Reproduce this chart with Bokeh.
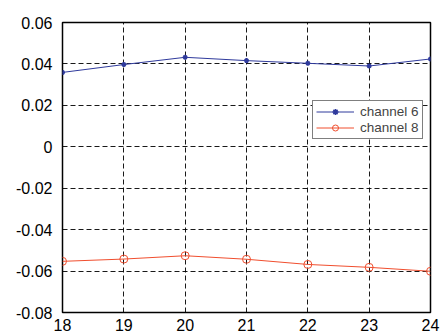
from bokeh.plotting import figure
from bokeh.models import FixedTicker, CustomJSTickFormatter, Legend, LegendItem, Range1d
from bokeh.embed import file_html
from bokeh.resources import INLINE

# Channel readings per index
x_vals = [18, 19, 20, 21, 22, 23, 24]
channel_6 = [0.0359, 0.0397, 0.0432, 0.0416, 0.0403, 0.0390, 0.0424]
channel_8 = [-0.0553, -0.0542, -0.0526, -0.0543, -0.0568, -0.0582, -0.0601]

x_ticks = [18, 19, 20, 21, 22, 23, 24]
y_ticks = [-0.08, -0.06, -0.04, -0.02, 0.0, 0.02, 0.04, 0.06]

BLUE = "#2f3a9c"
RED = "#f04e2e"
FONT = "Liberation Sans"

p = figure(width=442, height=336, output_backend="svg", toolbar_location=None,
           x_range=Range1d(18, 24), y_range=Range1d(-0.08, 0.06),
           min_border_left=62, min_border_right=12, min_border_top=22, min_border_bottom=24)
p.background_fill_color = "white"
p.border_fill_color = "white"
p.outline_line_color = "black"
p.outline_line_width = 1.5

for ax in (p.xaxis, p.yaxis):
    ax.axis_line_color = None
    ax.major_tick_in = 0
    ax.major_tick_out = 0
    ax.minor_tick_line_color = None
    ax.major_label_text_font = FONT
    ax.major_label_text_font_size = "16px"
    ax.major_label_text_color = "black"

p.xaxis.ticker = FixedTicker(ticks=x_ticks)
p.yaxis.ticker = FixedTicker(ticks=y_ticks)
p.xaxis.major_label_standoff = 6
p.yaxis.major_label_standoff = 10
p.yaxis.formatter = CustomJSTickFormatter(code="""
    if (Math.abs(tick) < 1e-9) { return "0"; }
    return tick.toFixed(2).replace(/0+$/, "").replace(/\\.$/, "");
""")

for g in (p.xgrid, p.ygrid):
    g.grid_line_color = "black"
    g.grid_line_dash = "5 3"
    g.grid_line_width = 1
    g.grid_line_alpha = 0.9

l6 = p.line(x_vals, channel_6, line_color=BLUE, line_width=1)
m6 = p.scatter(x_vals, channel_6, marker="asterisk", size=5, line_color=BLUE, line_width=1.5)
l8 = p.line(x_vals, channel_8, line_color=RED, line_width=1)
m8 = p.scatter(x_vals, channel_8, marker="circle", size=8, line_color=RED,
               fill_color=None, line_width=1)

legend = Legend(items=[LegendItem(label="channel 6", renderers=[l6, m6]),
                       LegendItem(label="channel 8", renderers=[l8, m8])],
                location=(250, 173), orientation="vertical",
                label_text_font=FONT, label_text_font_size="13.5px",
                glyph_width=38, glyph_height=15, label_height=15,
                label_standoff=6, spacing=1, padding=3, margin=0,
                border_line_color="black", border_line_width=1.5,
                background_fill_color="white", background_fill_alpha=1)
p.add_layout(legend)

open("out.html", "w").write(file_html(p, INLINE))
